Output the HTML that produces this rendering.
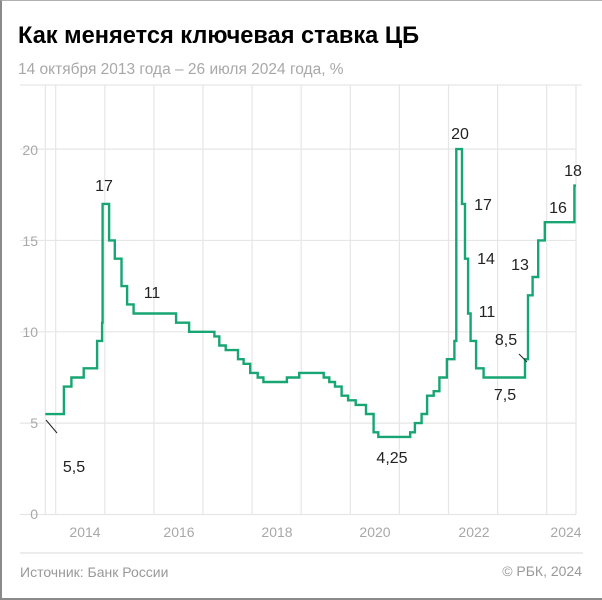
<!DOCTYPE html>
<html><head><meta charset="utf-8"><style>
html,body{margin:0;padding:0;background:#fff}
#w{position:relative;width:600px;height:597px;border-left:2px solid #8a8a8a;border-top:1px solid #b0b0b0;border-bottom:2px solid #8a8a8a;overflow:hidden;font-family:"Liberation Sans",sans-serif}
svg{position:absolute;left:-2px;top:-1px}
</style></head><body><div id="w">
<svg width="602" height="600" xmlns="http://www.w3.org/2000/svg" font-family="Liberation Sans, sans-serif">
<text x="18" y="43" font-size="23.6" font-weight="bold" fill="#000">Как меняется ключевая ставка ЦБ</text>
<text x="18" y="74" font-size="15.5" fill="#a8a8a8">14 октября 2013 года – 26 июля 2024 года, %</text>
<g id="grid" stroke="#e6e6e6" stroke-width="1.2"></g>
<g font-size="14" fill="#a8a8a8" text-anchor="end">
<text x="38" y="519">0</text><text x="38" y="428">5</text><text x="38" y="337">10</text><text x="38" y="246">15</text><text x="38" y="155">20</text>
</g>
<g font-size="14" fill="#a8a8a8" text-anchor="middle">
<text x="85" y="537">2014</text><text x="179" y="537">2016</text><text x="277" y="537">2018</text><text x="375" y="537">2020</text><text x="474" y="537">2022</text><text x="566" y="537">2024</text>
</g>
<path id="ln" fill="none" stroke="#17a673" stroke-width="2.4" stroke-linejoin="miter"/>
<line x1="46" y1="420" x2="57" y2="433" stroke="#222" stroke-width="1"/>
<line x1="519" y1="354" x2="527" y2="362" stroke="#222" stroke-width="1"/>
<g font-size="16" fill="#222" text-anchor="middle">
<text x="104" y="191">17</text><text x="152" y="298">11</text><text x="74" y="472">5,5</text>
<text x="392" y="463">4,25</text><text x="460" y="139">20</text><text x="483" y="210">17</text>
<text x="486" y="264">14</text><text x="487" y="317">11</text><text x="506" y="345">8,5</text>
<text x="505" y="400">7,5</text><text x="520" y="270">13</text><text x="558" y="213">16</text><text x="573" y="176">18</text>
</g>
<line x1="20" y1="553" x2="583" y2="553" stroke="#e6e6e6" stroke-width="1.5"/>
<text x="20" y="577" font-size="14" fill="#999">Источник: Банк России</text>
<text x="582" y="576" font-size="14" fill="#999" text-anchor="end">© РБК, 2024</text>
</svg>
<script>
var X0=55.7,YW=49.1;
function X(y,m,d){var t=(Date.UTC(y,m-1,d)-Date.UTC(y,0,1))/86400000/365;return X0+(y-2014+t)*YW;}
function Y(v){return 514.5-18.27*v;}
var g=document.getElementById('grid'),s='';
s+='<line x1="20" y1="85" x2="582" y2="85"/>';
[0,5,10,15,20].forEach(function(v){s+='<line x1="20" y1="'+Y(v)+'" x2="576" y2="'+Y(v)+'"/>';});
var xs=[45.3,576];for(var y=2014;y<=2024;y++)xs.push(X0+(y-2014)*YW);
xs.forEach(function(x){s+='<line x1="'+x+'" y1="85" x2="'+x+'" y2="514.5"/>';});
g.innerHTML=s;
var D=[[2013,10,14,5.5],[2014,3,3,7],[2014,4,28,7.5],[2014,7,28,8],[2014,11,5,9.5],[2014,12,12,10.5],[2014,12,16,17],[2015,2,2,15],[2015,3,16,14],[2015,5,5,12.5],[2015,6,16,11.5],[2015,8,3,11],[2016,6,14,10.5],[2016,9,19,10],[2017,3,27,9.75],[2017,5,2,9.25],[2017,6,19,9],[2017,9,18,8.5],[2017,10,30,8.25],[2017,12,18,7.75],[2018,2,12,7.5],[2018,3,26,7.25],[2018,9,17,7.5],[2018,12,17,7.75],[2019,6,17,7.5],[2019,7,29,7.25],[2019,9,9,7],[2019,10,28,6.5],[2019,12,16,6.25],[2020,2,10,6],[2020,4,27,5.5],[2020,6,22,4.5],[2020,7,27,4.25],[2021,3,22,4.5],[2021,4,26,5],[2021,6,15,5.5],[2021,7,26,6.5],[2021,9,13,6.75],[2021,10,25,7.5],[2021,12,20,8.5],[2022,2,14,9.5],[2022,2,28,20],[2022,4,11,17],[2022,5,4,14],[2022,5,27,11],[2022,6,14,9.5],[2022,7,25,8],[2022,9,19,7.5],[2023,7,24,8.5],[2023,8,15,12],[2023,9,18,13],[2023,10,30,15],[2023,12,18,16],[2024,7,25,18]];
var p='M45.3 '+Y(5.5),prev=5.5;
for(var i=1;i<D.length;i++){var x=X(D[i][0],D[i][1],D[i][2]);p+=' L'+x.toFixed(1)+' '+Y(prev).toFixed(1)+' L'+x.toFixed(1)+' '+Y(D[i][3]).toFixed(1);prev=D[i][3];}
p+=' L576 '+Y(18).toFixed(1);
document.getElementById('ln').setAttribute('d',p);
</script>
</div></body></html>
